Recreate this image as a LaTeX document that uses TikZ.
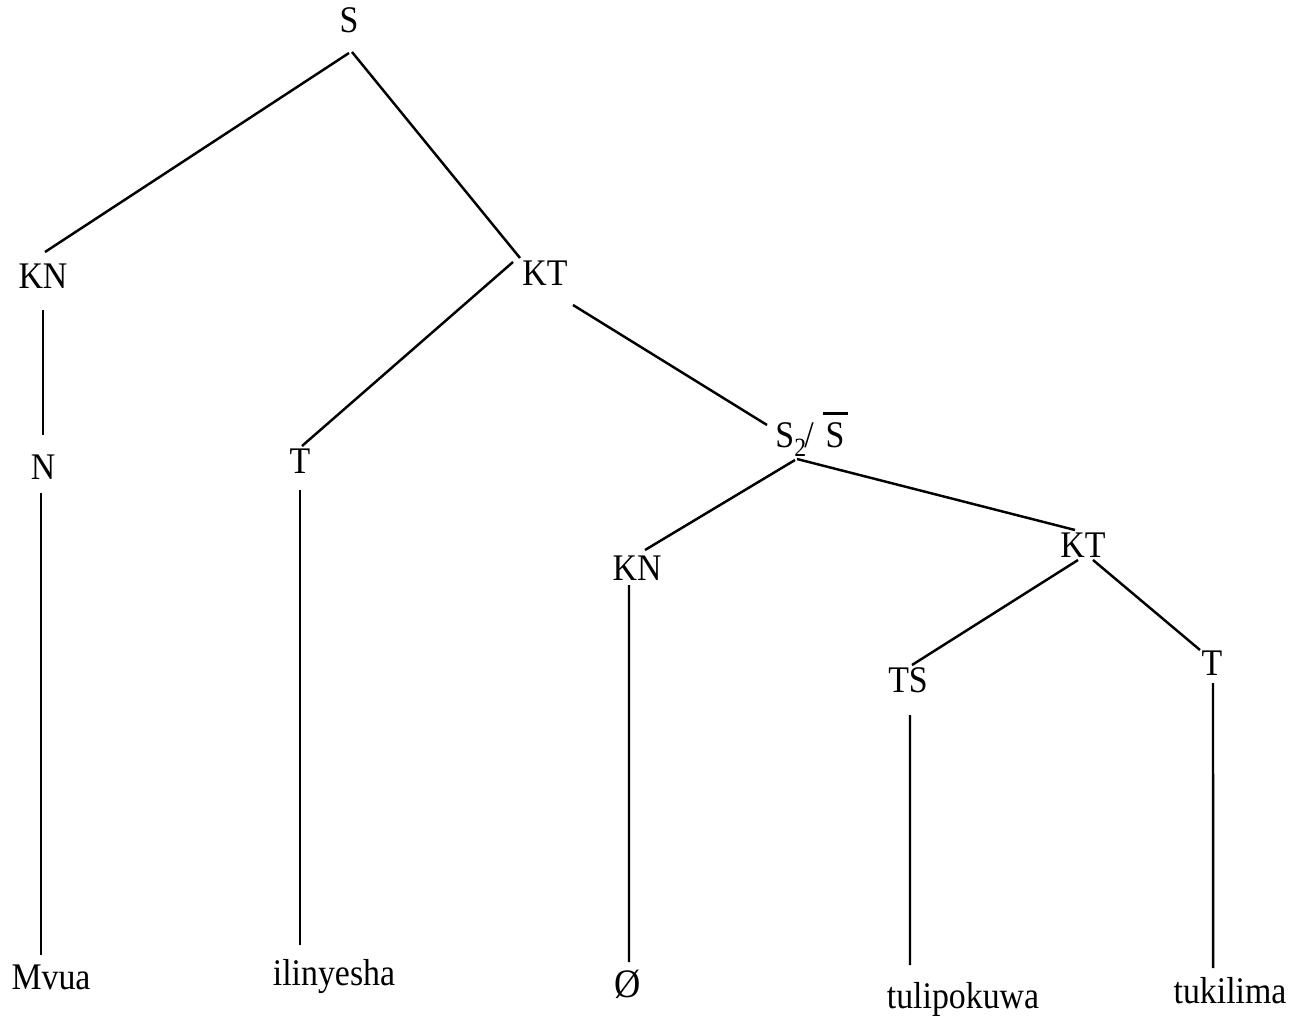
\documentclass[tikz,border=0pt]{standalone}
\usepackage{fontspec}
\setmainfont{Liberation Serif}[FakeStretch=0.9]
\newcommand{\barS}{\makebox[0pt][l]{\hspace{-0.08em}\raisebox{0.86em}{\rule{0.68em}{0.075em}}}S}
\begin{document}
\begin{tikzpicture}[
  lbl/.style={inner sep=0pt, anchor=base, font=\fontsize{10.7}{12.8}\selectfont},
  branch/.style={line width=0.7pt, black}
]
\useasboundingbox (0,0) rectangle (13.08,-10.19);
% nodes (base points)
\node[lbl] (S)   at (3.49,-0.33) {S};
\node[lbl] (KN)  at (0.43,-2.88) {KN};
\node[lbl] (KT)  at (5.45,-2.85) {KT};
\node[lbl] (N)   at (0.43,-4.79) {N};
\node[lbl] (T)   at (3.00,-4.73) {T};
\node[lbl] (s2)  at (8.10,-4.47) {S\raisebox{-0.55ex}{\fontsize{7.5}{9}\selectfont 2}\hspace{-0.05em}/\hspace{0.32em}\barS};
\node[lbl] (KN2) at (6.37,-5.80) {KN};
\node[lbl] (KT2) at (10.83,-5.57) {KT};
\node[lbl] (TS)  at (9.08,-6.92) {TS};
\node[lbl] (T2)  at (12.12,-6.75) {T};
\node[lbl] (mvua) at (0.51,-9.89) {Mvua};
\node[lbl] (ili)  at (3.34,-9.85) {ilinyesha};
\node[lbl] (null) at (6.28,-9.97) {\fontsize{11.5}{13}\selectfont Ø};
\node[lbl] (tul)  at (9.63,-10.08) {tulipokuwa};
\node[lbl] (tuk)  at (12.30,-10.03) {tukilima};
% connectors
\draw[branch] ([shift={(0,-0.20)}]S.base) -- ([shift={(0.02,0.36)}]KN.base);
\draw[branch] ([shift={(0.03,-0.19)}]S.base) -- ([shift={(-0.25,0.27)}]KT.base);
\draw[branch] ([shift={(0,-0.22)}]KN.base) -- ([shift={(0,0.44)}]N.base);
\draw[branch] ([shift={(-0.32,0.23)}]KT.base) -- ([shift={(0.02,0.27)}]T.base);
\draw[branch] ([shift={(0.28,-0.20)}]KT.base) -- ([shift={(-0.43,0.22)}]s2.base);
\draw[branch] ([shift={(-0.02,-0.14)}]N.base) -- ([shift={(-0.10,0.34)}]mvua.base);
\draw[branch] ([shift={(0,-0.17)}]T.base) -- ([shift={(-0.34,0.40)}]ili.base);
\draw[branch] ([shift={(-0.15,-0.13)}]s2.base) -- ([shift={(0.08,0.30)}]KN2.base);
\draw[branch] ([shift={(-0.13,-0.12)}]s2.base) -- ([shift={(-0.08,0.27)}]KT2.base);
\draw[branch] ([shift={(-0.08,-0.05)}]KN2.base) -- ([shift={(0.01,0.35)}]null.base);
\draw[branch] ([shift={(-0.05,-0.03)}]KT2.base) -- ([shift={(0.04,0.27)}]TS.base);
\draw[branch] ([shift={(0.10,-0.03)}]KT2.base) -- ([shift={(-0.12,0.25)}]T2.base);
\draw[branch] ([shift={(0.02,-0.23)}]TS.base) -- ([shift={(-0.53,0.43)}]tul.base);
\draw[branch] ([shift={(0.01,-0.08)}]T2.base) -- ([shift={(-0.17,0.35)}]tuk.base);
\end{tikzpicture}
\end{document}
